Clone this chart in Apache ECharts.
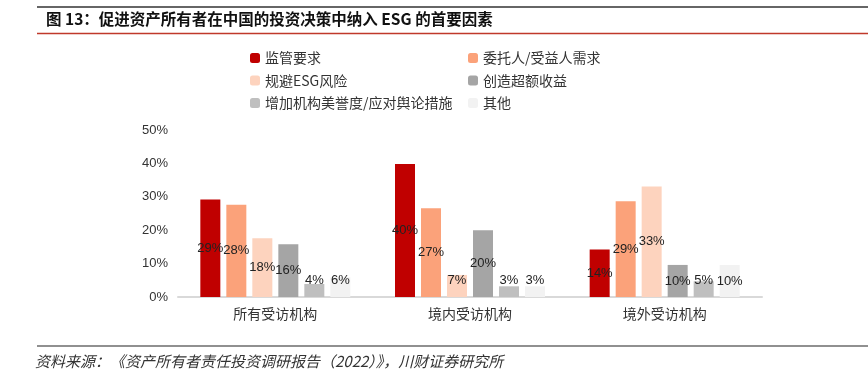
<!DOCTYPE html>
<html><head><meta charset="utf-8">
<script src="https://cdn.jsdelivr.net/npm/echarts@6/dist/echarts.min.js"></script>
<style>html,body{margin:0;padding:0;background:#fff;}#c{width:868px;height:379px;}</style>
</head><body><div id="c"></div>
<script>
const categories = ['所有受访机构', '境内受访机构', '境外受访机构'];
const seriesNames = ['监管要求', '委托人/受益人需求', '规避ESG风险', '创造超额收益', '增加机构美誉度/应对舆论措施', '其他'];
const s1 = [29.2, 39.8, 14.2];
const s2 = [27.6, 26.6, 28.7];
const s3 = [17.6, 6.6, 33.1];
const s4 = [15.8, 20.0, 9.6];
const s5 = [3.9, 3.2, 4.7];
const s6 = [5.9, 3.2, 9.6];
const yTicks = [0, 10, 20, 30, 40, 50];
const colors = ['#C00000', '#FBA27A', '#FDD3BE', '#A5A5A5', '#BFBFBF', '#F2F2F2'];
const allSeries = [s1, s2, s3, s4, s5, s6];

const chart = echarts.init(document.getElementById('c'));
const cjk = '"Noto Sans CJK SC", "Noto Sans", sans-serif';
const num = '"Liberation Sans", Arial, sans-serif';

function makeData(arr) {
  return arr.map(v => {
    const small = v < 9;
    return {
      value: v,
      label: small ? { position: 'insideBottom', distance: 10 } : { position: 'inside' }
    };
  });
}

chart.setOption({
  animation: false,
  color: colors,
  graphic: [
    { type: 'line', shape: { x1: 37, y1: 7, x2: 868, y2: 7 }, style: { stroke: '#333', lineWidth: 1.5 } },
    { type: 'line', shape: { x1: 37, y1: 33.5, x2: 868, y2: 33.5 }, style: { stroke: '#C0392B', lineWidth: 1.5 } },
    { type: 'text', left: 46, top: 11, style: { text: '图 13：促进资产所有者在中国的投资决策中纳入 ESG 的首要因素', font: 'bold 15.5px ' + cjk, fill: '#111' } },
    { type: 'line', shape: { x1: 37, y1: 346, x2: 868, y2: 346 }, style: { stroke: '#222', lineWidth: 1.2 } },
    { type: 'text', left: 35, top: 354, style: { text: '资料来源：《资产所有者责任投资调研报告（2022）》，川财证券研究所', font: 'italic 15px ' + cjk, fill: '#333' } }
  ],
  legend: [
    {
      orient: 'vertical', left: 245, top: 46, itemWidth: 10, itemHeight: 10, itemGap: 8.5,
      data: [seriesNames[0], seriesNames[2], seriesNames[4]],
      textStyle: { fontSize: 14, fontFamily: cjk, color: '#333' }
    },
    {
      orient: 'vertical', left: 463, top: 46, itemWidth: 10, itemHeight: 10, itemGap: 8.5,
      data: [seriesNames[1], seriesNames[3], seriesNames[5]],
      textStyle: { fontSize: 14, fontFamily: cjk, color: '#333' }
    }
  ],
  grid: { left: 178, right: 106, top: 130, bottom: 82, containLabel: false },
  xAxis: {
    type: 'category', data: categories,
    axisLine: { lineStyle: { color: '#D9D9D9', width: 2 } },
    axisTick: { show: false },
    axisLabel: { fontSize: 14, fontFamily: cjk, color: '#333', margin: 10 }
  },
  yAxis: {
    type: 'value', min: yTicks[0], max: yTicks[yTicks.length - 1], interval: 10,
    splitLine: { show: false },
    axisLine: { show: false }, axisTick: { show: false },
    axisLabel: { formatter: v => v + '%', fontSize: 13, fontFamily: num, color: '#333', margin: 10 }
  },
  series: allSeries.map((arr, i) => ({
    name: seriesNames[i], type: 'bar', barWidth: 20, barGap: '30%',
    data: makeData(arr),
    itemStyle: { color: colors[i] },
    label: { show: true, formatter: p => Math.round(p.value) + '%', fontSize: 13, fontFamily: num, color: '#222' }
  }))
});
</script></body></html>
